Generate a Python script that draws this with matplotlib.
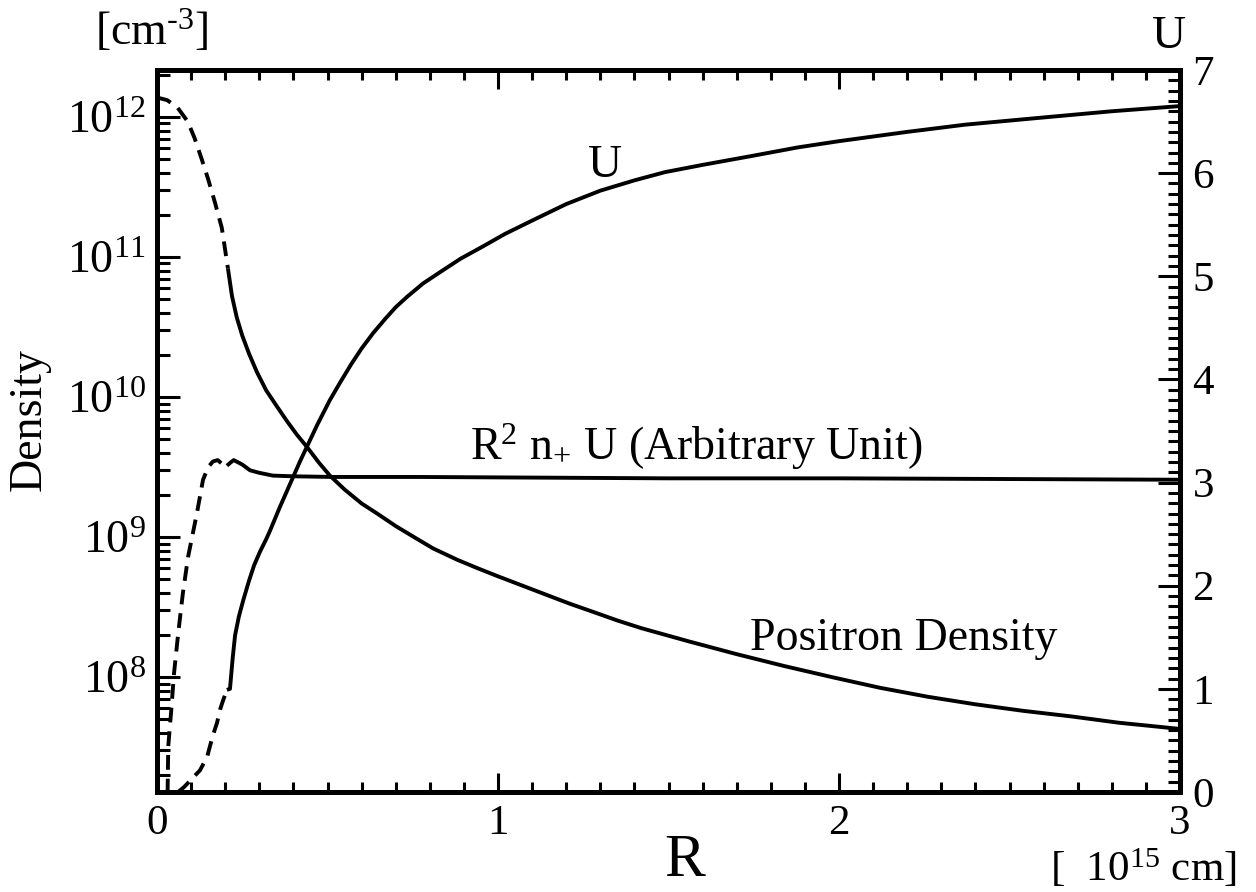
import matplotlib
matplotlib.use("Agg")
import matplotlib.pyplot as plt
from matplotlib.ticker import MultipleLocator, LogLocator, NullFormatter, FixedLocator

plt.rcParams['font.family'] = ['Liberation Serif', 'DejaVu Serif']
plt.rcParams['mathtext.fontset'] = 'custom'
plt.rcParams['mathtext.rm'] = 'Liberation Serif'
plt.rcParams['mathtext.it'] = 'Liberation Serif:italic'
plt.rcParams['mathtext.bf'] = 'Liberation Serif:bold'

# ---------------- data ----------------
# Positron density [cm^-3] (left, log axis)
pos_R_dash = [0.0, 0.03, 0.06, 0.09, 0.11, 0.13, 0.15, 0.17, 0.19, 0.208]
pos_n_dash = [1.38e12, 1.32e12, 1.17e12, 9.3e11, 7.1e11, 5.1e11, 3.6e11, 2.45e11, 1.62e11, 8.3e10]
pos_R_solid = [0.208, 0.22, 0.234, 0.25, 0.27, 0.293, 0.32, 0.35, 0.38, 0.41, 0.44, 0.475,
               0.507, 0.55, 0.60, 0.65, 0.70, 0.76, 0.81, 0.88, 0.94, 1.0, 1.07, 1.14,
               1.21, 1.28, 1.35, 1.42, 1.56, 1.70, 1.84, 1.98, 2.12, 2.26, 2.40, 2.54,
               2.68, 2.82, 3.0]
pos_n_solid = [8.3e10, 5.25e10, 3.7e10, 2.75e10, 2.04e10, 1.51e10, 1.12e10, 8.7e9, 6.8e9, 5.4e9, 4.4e9, 3.4e9,
               2.75e9, 2.19e9, 1.74e9, 1.45e9, 1.2e9, 9.8e8, 8.3e8, 6.9e8, 6.0e8, 5.25e8, 4.52e8, 3.89e8,
               3.35e8, 2.92e8, 2.54e8, 2.24e8, 1.8e8, 1.46e8, 1.2e8, 1.0e8, 8.4e7, 7.25e7, 6.4e7, 5.75e7,
               5.25e7, 4.73e7, 4.27e7]

# R^2 n_+ U (arbitrary unit, left log axis)
flux_R_dash = [0.030, 0.033, 0.041, 0.050, 0.062, 0.076, 0.091, 0.117, 0.135, 0.150, 0.164, 0.178, 0.19, 0.205]
flux_v_dash = [1.0e7, 3.2e7, 5.5e7, 1.07e8, 2.04e8, 4.0e8, 7.2e8, 1.48e9, 2.57e9, 3.16e9, 3.47e9, 3.55e9, 3.35e9, 3.24e9]
flux_R_solid = [0.205, 0.215, 0.225, 0.25, 0.273, 0.30, 0.34, 0.40, 0.516, 0.77, 1.5, 2.0, 2.5, 3.0]
flux_v_solid = [3.24e9, 3.4e9, 3.55e9, 3.3e9, 3.0e9, 2.88e9, 2.75e9, 2.72e9, 2.69e9, 2.69e9, 2.63e9, 2.63e9, 2.6e9, 2.57e9]

# U (right, linear axis)
U_R_dash = [0.062, 0.08, 0.10, 0.126, 0.147, 0.155, 0.164, 0.176, 0.185, 0.194, 0.205]
U_v_dash = [0.0, 0.05, 0.12, 0.21, 0.34, 0.44, 0.55, 0.67, 0.80, 0.89, 0.99]
U_R_solid = [0.205, 0.214, 0.222, 0.229, 0.24, 0.253, 0.27, 0.285, 0.302, 0.32, 0.331, 0.36,
             0.38, 0.40, 0.42, 0.44, 0.47, 0.507, 0.537, 0.57, 0.60, 0.634, 0.67, 0.70,
             0.733, 0.78, 0.83, 0.89, 0.956, 1.02, 1.10, 1.20, 1.30, 1.40, 1.49, 1.60,
             1.75, 1.88, 2.0, 2.2, 2.37, 2.6, 2.8, 3.0]
U_v_solid = [0.99, 1.0, 1.30, 1.52, 1.70, 1.86, 2.05, 2.20, 2.33, 2.45, 2.53, 2.76,
             2.91, 3.06, 3.21, 3.35, 3.56, 3.80, 3.97, 4.15, 4.30, 4.45, 4.59, 4.70,
             4.80, 4.93, 5.04, 5.17, 5.29, 5.41, 5.54, 5.70, 5.83, 5.93, 6.01, 6.08,
             6.17, 6.25, 6.31, 6.40, 6.47, 6.54, 6.60, 6.65]

x_major = [0, 1, 2, 3]
u_major = [0, 1, 2, 3, 4, 5, 6, 7]

# ---------------- figure ----------------
W, H = 1256, 892
fig = plt.figure(figsize=(W / 100, H / 100), dpi=100)
L, R_, T, B = 157, 1180, 70, 792
ax = fig.add_axes([L / W, 1 - B / H, (R_ - L) / W, (B - T) / H])
ax2 = ax.twinx()

lw = 2.8
dash = (3.8, 2.3)
kw = dict(color='black', lw=lw, solid_joinstyle='round', solid_capstyle='butt')
ax.plot(pos_R_dash, pos_n_dash, linestyle=(0, dash), **kw)
ax.plot(pos_R_solid, pos_n_solid, **kw)
ax.plot(flux_R_dash, flux_v_dash, linestyle=(0, dash), **kw)
ax.plot(flux_R_solid, flux_v_solid, **kw)
ax2.plot(U_R_dash, U_v_dash, linestyle=(0, dash), **kw)
ax2.plot(U_R_solid, U_v_solid, **kw)

ax.set_yscale('log')
ax.set_xlim(0, 3)
ax.set_ylim(10 ** 7.18, 10 ** 12.336)
ax2.set_ylim(0, 7)

ax.xaxis.set_major_locator(FixedLocator(x_major))
ax.xaxis.set_minor_locator(MultipleLocator(0.1))
ax.set_xticklabels([str(v) for v in x_major])
ax.yaxis.set_major_locator(LogLocator(base=10, numticks=20))
ax.yaxis.set_minor_locator(LogLocator(base=10, subs=range(2, 10), numticks=50))
ax.yaxis.set_minor_formatter(NullFormatter())
ax2.yaxis.set_major_locator(FixedLocator(u_major))
ax2.yaxis.set_minor_locator(MultipleLocator(0.1))
ax2.set_yticklabels([str(v) for v in u_major])

tw = 2.2
ax.tick_params(axis='x', which='major', direction='in', top=True, bottom=True,
               length=14, width=tw, labelsize=31, pad=9)
ax.tick_params(axis='x', which='minor', direction='in', top=True, bottom=True,
               length=7.5, width=tw)
ax.tick_params(axis='y', which='major', direction='in', left=True, right=False,
               length=16.5, width=tw, labelsize=33, pad=8)
ax.tick_params(axis='y', which='minor', direction='in', left=True, right=False,
               length=9, width=tw)
ax2.tick_params(axis='y', which='major', direction='in', right=True, left=False,
                length=16, width=tw, labelsize=31, pad=9)
ax2.tick_params(axis='y', which='minor', direction='in', right=True, left=False,
                length=8.5, width=tw)

for a in (ax, ax2):
    for s in a.spines.values():
        s.set_linewidth(3.6)

def fx(px):
    return px / W

def fy(py):
    return 1 - py / H

fs = 33
fig.text(fx(588), fy(177), 'U', fontsize=34, ha='left', va='baseline')
fig.text(fx(470), fy(460), r'R$^{2}$ n$_{+}$ U (Arbitrary Unit)', fontsize=fs, ha='left', va='baseline')
fig.text(fx(750), fy(650), 'Positron Density', fontsize=fs, ha='left', va='baseline')
fig.text(fx(95), fy(45), r'[cm$^{\text{-3}}$]', fontsize=fs, ha='left', va='baseline')
fig.text(fx(1152), fy(48), 'U', fontsize=34, ha='left', va='baseline')
fig.text(fx(664), fy(876), 'R', fontsize=44, ha='left', va='baseline')
fig.text(fx(1050), fy(881), r'[  10$^{15}$ cm]', fontsize=31, ha='left', va='baseline')
fig.text(fx(29), fy(420), 'Density', fontsize=fs, rotation=90, ha='center', va='center')

fig.savefig('out.png', dpi=100)
